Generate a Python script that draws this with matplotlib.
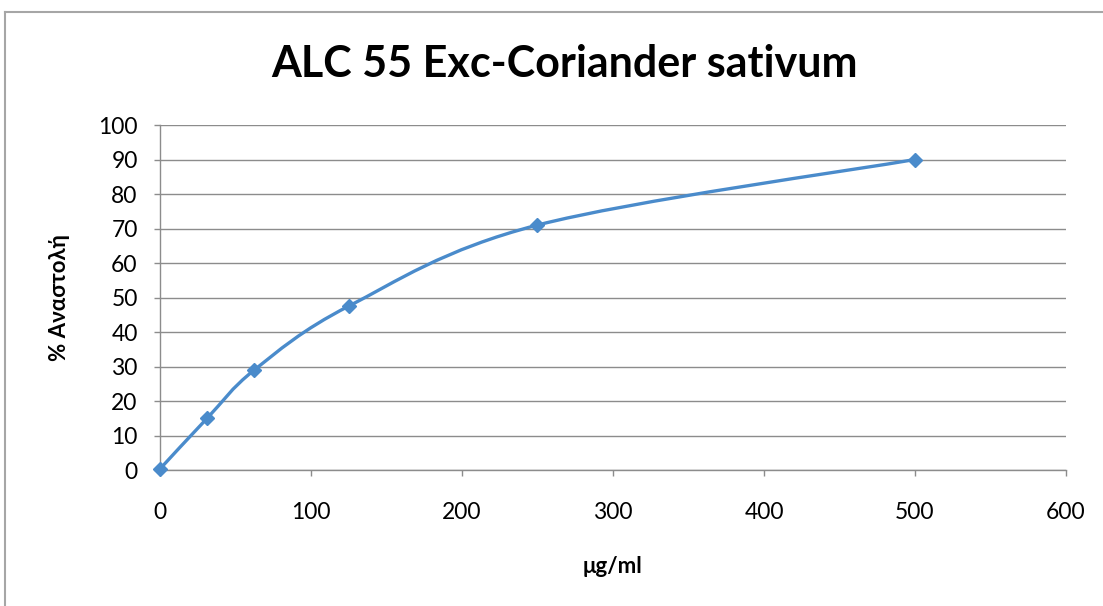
import matplotlib.pyplot as plt
from matplotlib.path import Path
from matplotlib.patches import PathPatch
from matplotlib.lines import Line2D
import numpy as np

# data
conc = [0, 31.25, 62.5, 125, 250, 500]
inhibition = [0.3, 15.0, 29.0, 47.5, 71.0, 90.0]
x_ticks = [0, 100, 200, 300, 400, 500, 600]
y_ticks = [0, 10, 20, 30, 40, 50, 60, 70, 80, 90, 100]

blue = '#4A8BCB'
grid_col = '#8C8C8C'

plt.rcParams['font.family'] = ['Lato', 'DejaVu Sans']

fig = plt.figure(figsize=(11.03, 6.06), dpi=100)
ax = fig.add_axes([0.145, 0.2244, 0.8215, 0.5693])


def smooth_path(xs, ys):
    # Excel-like smoothed line: cubic bezier segments (Catmull-Rom)
    pts = np.column_stack([xs, ys]).astype(float)
    n = len(pts)
    verts = [pts[0]]
    codes = [Path.MOVETO]
    for i in range(n - 1):
        p0 = pts[i - 1] if i > 0 else pts[i]
        p1 = pts[i]
        p2 = pts[i + 1]
        p3 = pts[i + 2] if i + 2 < n else pts[i + 1]
        c1 = p1 + (p2 - p0) / 6.0
        c2 = p2 - (p3 - p1) / 6.0
        verts += [c1, c2, p2]
        codes += [Path.CURVE4] * 3
    return Path(verts, codes)


ax.add_patch(PathPatch(smooth_path(conc, inhibition), facecolor='none',
                       edgecolor=blue, lw=2.4, zorder=3, capstyle='round'))
ax.plot(conc, inhibition, linestyle='none', marker='D', markersize=7.5,
        color=blue, zorder=4, clip_on=False)

ax.set_xlim(0, 600)
ax.set_ylim(0, 100)
ax.set_xticks(x_ticks)
ax.set_yticks(y_ticks)
ax.yaxis.grid(True, color=grid_col, lw=1.0)
ax.set_axisbelow(True)

for s in ['top', 'right']:
    ax.spines[s].set_visible(False)
for s in ['left', 'bottom']:
    ax.spines[s].set_color(grid_col)
    ax.spines[s].set_linewidth(1.0)

ax.tick_params(axis='both', colors=grid_col, length=4, width=1.0,
               labelsize=16.5, labelcolor='black')
ax.tick_params(axis='x', pad=19)
ax.tick_params(axis='y', pad=12)

ax.set_xlabel('μg/ml', fontsize=16, fontweight='bold', labelpad=24)
ax.set_ylabel('% Αναστολή', fontsize=16, fontweight='bold', labelpad=20)

fig.text(0.512, 0.895, 'ALC 55 Exc-Coriander sativum', ha='center', va='center',
         fontsize=31, fontweight='bold')

# chart frame
fig.add_artist(Line2D([0.0045, 1.0], [0.981, 0.981], color='#A6A6A6', lw=1.5,
                      transform=fig.transFigure))
fig.add_artist(Line2D([0.0045, 0.0045], [0.981, 0.0], color='#A6A6A6', lw=1.5,
                      transform=fig.transFigure))

fig.savefig('out.png', dpi=100)
